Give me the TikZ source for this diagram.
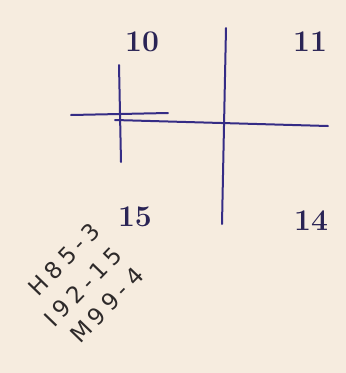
\documentclass[tikz,border=0pt]{standalone}
\usepackage{fontspec}
\newfontfamily\hand[LetterSpace=22]{DejaVu Sans}
\definecolor{paper}{HTML}{F6ECDF}
\definecolor{ink}{HTML}{352C85}
\definecolor{num}{HTML}{2A2455}
\definecolor{pencil}{HTML}{2E2A2A}
\tikzset{
  rule/.style={draw=ink, line width=2pt, line cap=round},
  numlabel/.style={text=num, font=\fontsize{30}{30}\selectfont\bfseries, inner sep=0pt},
  handnote/.style={text=pencil, font=\hand\fontsize{23}{23}\selectfont, inner sep=0pt, rotate=46, anchor=center}
}
\begin{document}
\begin{tikzpicture}[x=1pt, y=-1pt]
\fill[paper] (0,0) rectangle (346,373);
\useasboundingbox (0,0) rectangle (346,373);
% lines
\coordinate (bvT) at (226,28);
\coordinate (bvB) at (222,224);
\coordinate (lhL) at (115,120);
\coordinate (lhR) at (328,126);
\coordinate (shL) at (71,115);
\coordinate (shR) at (168,113);
\coordinate (svT) at (119,65);
\coordinate (svB) at (121,162);
\draw[rule] (bvT) -- (bvB);
\draw[rule] (lhL) -- (lhR);
\draw[rule] (shL) -- (shR);
\draw[rule] (svT) -- (svB);
% labels
\node[numlabel] (n10) at (142,42) {10};
\node[numlabel] (n11) at (310,42) {11};
\node[numlabel] (n15) at (135,217) {15};
\node[numlabel] (n14) at (311,221) {14};
% handwritten notes
\node[handnote] (h1) at (64,259) {H85-3};
\node[handnote] (h2) at (83,287) {I92-15};
\node[handnote] (h3) at (107,305) {M99-\,\,4};
\end{tikzpicture}
\end{document}
